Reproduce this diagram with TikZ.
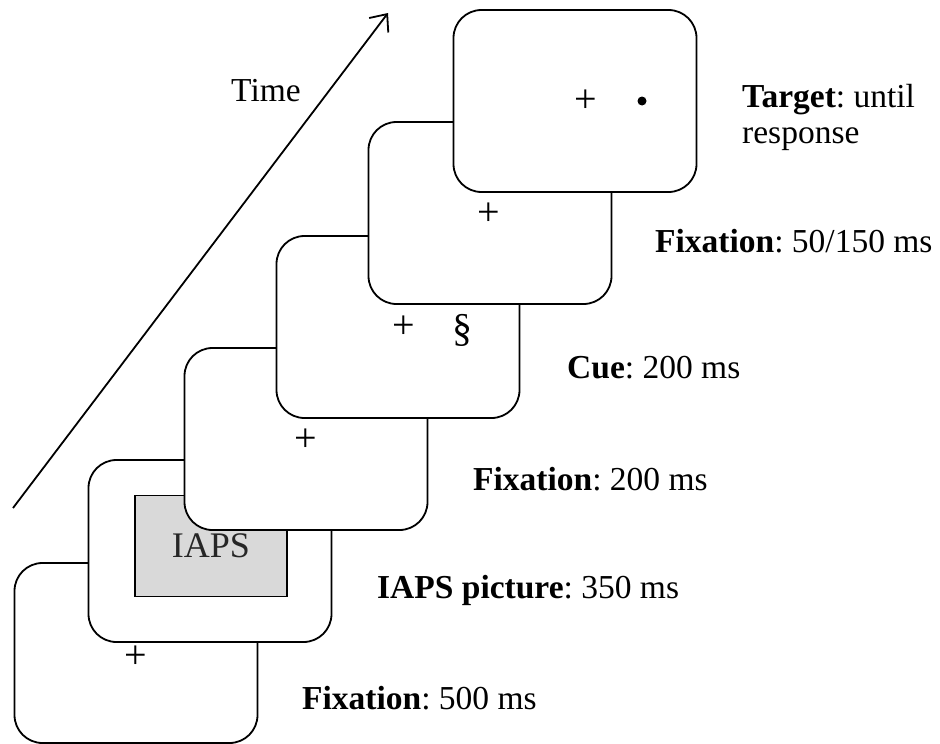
\documentclass[tikz,border=0pt]{standalone}
\usepackage{fontspec}
\setmainfont{Liberation Serif}
\usetikzlibrary{arrows.meta}
\frenchspacing

\begin{document}
\begin{tikzpicture}[
  x=1pt, y=-1pt,
  screen/.style={draw, fill=white, line width=1.8pt, rounded corners=28pt,
                 minimum width=243pt, minimum height=182pt, inner sep=0pt},
  photo/.style={draw, fill=black!15, line width=1.8pt, inner sep=0pt,
                minimum width=152pt, minimum height=101pt,
                font=\fontsize{36}{40}\selectfont, text=black!85},
  sym/.style={font=\fontsize{40}{44}\selectfont, inner sep=0pt},
  lbl/.style={anchor=base west, align=left, inner sep=0pt,
              font=\fontsize{33.5}{36}\selectfont},
  arr/.style={-{Straight Barb[length=14pt, width=24pt]}, line width=1.8pt}
]
  \useasboundingbox (0,0) rectangle (940,744);

  % time axis
  \coordinate (t0) at (13,508);
  \coordinate (t1) at (388,13);
  \draw[arr] (t0) -- (t1);
  \node[lbl, anchor=base] (time) at (266,101) {Time};

  % screens, first one at the bottom
  \node[screen, minimum height=180pt] (fix1) at (136,653) {};
  \node[sym] (cross1) at (136,657) {+};

  \node[screen] (iaps) at (210,551) {};
  \node[photo] (img) at (211,546) {IAPS};

  \node[screen] (fix2) at (306,439) {};
  \node[sym] (cross2) at (306,440) {+};

  \node[screen] (cue) at (398,327) {};
  \node[sym] (cross3) at (404,327) {+};
  \node[sym] (sect) at (462,330) {\S};

  \node[screen] (fix3) at (490,213) {};
  \node[sym] (cross4) at (489,214) {+};

  \node[screen] (target) at (575,101) {};
  \node[sym] (cross5) at (586,101) {+};
  \node[circle, fill, minimum size=9pt, inner sep=0pt] (dot) at (642,101) {};

  % durations
  \node[lbl] (d1) at (302,709) {\textbf{Fixation}: 500 ms};
  \node[lbl] (d2) at (377,598) {\textbf{IAPS picture}: 350 ms};
  \node[lbl] (d3) at (473,490) {\textbf{Fixation}: 200 ms};
  \node[lbl] (d4) at (567,378) {\textbf{Cue}: 200 ms};
  \node[lbl] (d5) at (655,252) {\textbf{Fixation}: 50/150 ms};
  \node[lbl] (d6) at (742,143) {\textbf{Target}: until\\response};
\end{tikzpicture}
\end{document}
